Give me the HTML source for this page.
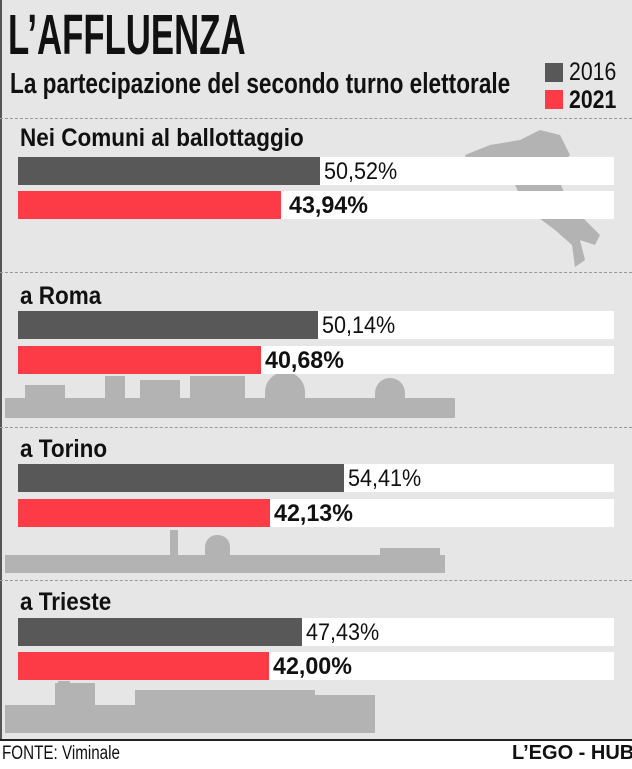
<!DOCTYPE html>
<html><head><meta charset="utf-8"><style>
body{margin:0;width:632px;height:767px;overflow:hidden;background:#e6e6e6;font-family:"Liberation Sans Narrow","Liberation Sans",sans-serif;position:relative}
.t{position:absolute;white-space:nowrap;transform-origin:0 0;color:#111}
.bg{position:absolute;left:18px;width:596px;height:28px;background:#fff}
.b{position:absolute;left:18px;height:28px}
.d{background:#585858}.r{background:#fd3b47}
.dash{position:absolute;left:0;width:632px;border-top:1px dashed #999}
.sk{position:absolute;background:#b3b3b3}
.lab{font-size:25px;font-weight:bold;transform:scaleX(0.9)}
.v1{font-size:24px;transform:scaleX(0.9)}
.v2{font-size:24px;font-weight:bold;transform:scaleX(0.97)}
</style></head><body>
<div style="position:absolute;left:0;top:0;width:2px;height:740px;background:#555"></div>
<div class="t" style="left:8px;top:2px;font-size:57px;font-weight:bold;transform:scaleX(0.61)">L’AFFLUENZA</div>
<div class="t" style="left:10px;top:68px;font-size:29px;font-weight:bold;transform:scaleX(0.78)">La partecipazione del secondo turno elettorale</div>
<div style="position:absolute;left:545px;top:63px;width:18px;height:19px;background:#585858"></div>
<div style="position:absolute;left:545px;top:90px;width:18px;height:19px;background:#fd3b47"></div>
<div class="t" style="left:569px;top:58px;font-size:25px;transform:scaleX(0.85)">2016</div>
<div class="t" style="left:569px;top:86px;font-size:25px;font-weight:bold;transform:scaleX(0.85)">2021</div>

<div class="dash" style="top:118px"></div>
<div class="dash" style="top:272px"></div>
<div class="dash" style="top:427px"></div>
<div class="dash" style="top:580px"></div>

<svg style="position:absolute;left:460px;top:125px" width="150" height="145"><path d="M5,30 L30,20 L60,15 L80,5 L100,10 L110,30 L95,45 L105,70 L120,90 L140,110 L135,120 L120,115 L125,135 L115,142 L112,120 L95,105 L75,90 L60,70 L50,50 L30,45 L10,45 Z" fill="#b3b3b3"/></svg>

<div class="t lab" style="left:20px;top:124px">Nei Comuni al ballottaggio</div>
<div class="bg" style="top:157px"></div><div class="b d" style="top:157px;width:302px"></div>
<div class="t v1" style="left:324px;top:158px">50,52%</div>
<div class="bg" style="top:191px"></div><div class="b r" style="top:191px;width:263px"></div>
<div class="t v2" style="left:289px;top:192px">43,94%</div>

<div class="sk" style="left:5px;top:398px;width:450px;height:20px"></div>
<div class="sk" style="left:25px;top:385px;width:40px;height:15px"></div>
<div class="sk" style="left:105px;top:376px;width:20px;height:25px"></div>
<div class="sk" style="left:140px;top:380px;width:40px;height:20px"></div>
<div class="sk" style="left:190px;top:376px;width:55px;height:25px"></div>
<div class="sk" style="left:265px;top:372px;width:40px;height:30px;border-radius:20px 20px 0 0"></div>
<div class="sk" style="left:375px;top:378px;width:30px;height:22px;border-radius:15px 15px 0 0"></div>

<div class="t lab" style="left:20px;top:282px">a Roma</div>
<div class="bg" style="top:311px"></div><div class="b d" style="top:311px;width:300px"></div>
<div class="t v1" style="left:322px;top:312px">50,14%</div>
<div class="bg" style="top:346px"></div><div class="b r" style="top:346px;width:243px"></div>
<div class="t v2" style="left:265px;top:347px">40,68%</div>

<div class="sk" style="left:5px;top:555px;width:440px;height:18px"></div>
<div class="sk" style="left:170px;top:530px;width:8px;height:30px"></div>
<div class="sk" style="left:205px;top:535px;width:25px;height:25px;border-radius:12px 12px 0 0"></div>
<div class="sk" style="left:380px;top:548px;width:60px;height:12px"></div>

<div class="t lab" style="left:20px;top:435px">a Torino</div>
<div class="bg" style="top:464px"></div><div class="b d" style="top:464px;width:326px"></div>
<div class="t v1" style="left:348px;top:465px">54,41%</div>
<div class="bg" style="top:499px"></div><div class="b r" style="top:499px;width:252px"></div>
<div class="t v2" style="left:274px;top:500px">42,13%</div>

<div class="sk" style="left:5px;top:705px;width:370px;height:28px"></div>
<div class="sk" style="left:55px;top:683px;width:40px;height:25px"></div>
<div class="sk" style="left:135px;top:690px;width:110px;height:20px"></div>
<div class="sk" style="left:200px;top:690px;width:115px;height:20px"></div>
<div class="sk" style="left:315px;top:695px;width:60px;height:15px"></div>
<div class="sk" style="left:58px;top:681px;width:12px;height:15px"></div>

<div class="t lab" style="left:20px;top:588px">a Trieste</div>
<div class="bg" style="top:618px"></div><div class="b d" style="top:618px;width:284px"></div>
<div class="t v1" style="left:306px;top:619px">47,43%</div>
<div class="bg" style="top:652px"></div><div class="b r" style="top:652px;width:251px"></div>
<div class="t v2" style="left:273px;top:653px">42,00%</div>

<div style="position:absolute;left:0;top:739px;width:632px;height:28px;background:#fff;border-top:2px solid #222"></div>
<div class="t" style="left:2px;top:743px;font-size:19px;transform:scaleX(0.8)">FONTE: Viminale</div>
<div class="t" style="left:512px;top:742px;font-size:20px;font-weight:bold;font-family:'Liberation Sans',sans-serif">L’EGO - HUB</div>
</body></html>
